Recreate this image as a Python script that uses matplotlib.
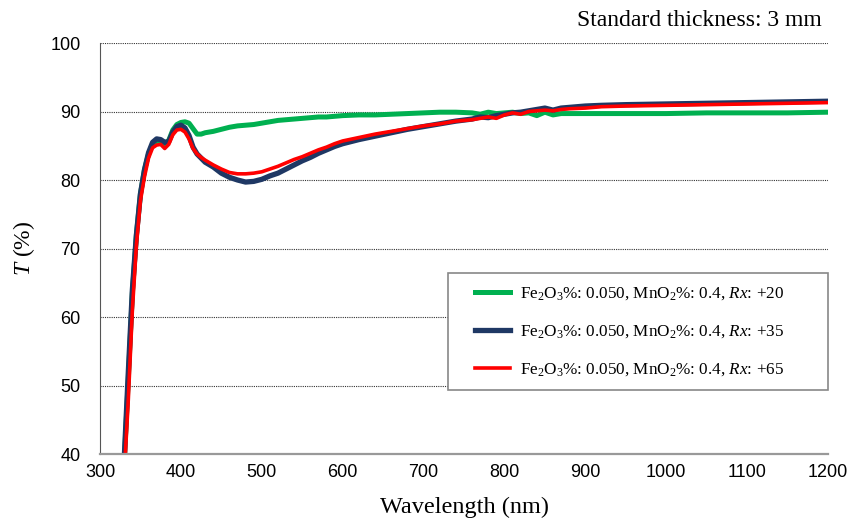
import matplotlib
matplotlib.use('Agg')
import matplotlib.pyplot as plt
from matplotlib.patches import Rectangle

plt.rcParams['mathtext.fontset'] = 'custom'
plt.rcParams['mathtext.rm'] = 'Liberation Serif'
plt.rcParams['mathtext.it'] = 'Liberation Serif:italic'

wavelength = [330, 335, 340, 345, 350, 355, 360, 365, 370, 375, 380, 385, 390, 395, 400,
              405, 410, 415, 420, 425, 430, 440, 450, 460, 470, 480, 490, 500, 510, 520,
              530, 540, 550, 560, 570, 580, 590, 600, 620, 640, 660, 680, 700, 720, 740,
              760, 770, 780, 790, 800, 810, 820, 830, 840, 850, 860, 870, 880, 900, 920,
              950, 1000, 1050, 1100, 1150, 1200]

t_rx20 = [39.0, 51.0, 63.5, 72.0, 78.0, 81.5, 83.8, 85.2, 85.7, 85.5, 85.3, 85.8, 87.3, 88.1, 88.4,
          88.5, 88.3, 87.5, 86.7, 86.7, 86.9, 87.1, 87.4, 87.7, 87.9, 88.0, 88.1, 88.3, 88.5, 88.7,
          88.8, 88.9, 89.0, 89.1, 89.2, 89.2, 89.3, 89.4, 89.5, 89.5, 89.6, 89.7, 89.8, 89.9, 89.9,
          89.8, 89.6, 89.9, 89.7, 89.8, 89.9, 89.7, 89.8, 89.4, 89.9, 89.5, 89.7, 89.7, 89.7, 89.7,
          89.7, 89.7, 89.8, 89.8, 89.8, 89.9]

t_rx35 = [39.5, 52.0, 64.0, 72.0, 78.0, 81.5, 84.0, 85.5, 86.0, 85.9, 85.5, 85.6, 87.0, 87.8, 88.0,
          87.6, 86.5, 84.8, 83.8, 83.2, 82.6, 81.9, 81.0, 80.4, 80.0, 79.7, 79.8, 80.1, 80.6, 81.0,
          81.6, 82.2, 82.8, 83.3, 83.9, 84.4, 84.9, 85.3, 85.9, 86.4, 86.9, 87.4, 87.8, 88.2, 88.6,
          88.9, 89.2, 89.1, 89.4, 89.6, 89.8, 89.9, 90.1, 90.3, 90.5, 90.2, 90.5, 90.6, 90.8, 90.9,
          91.0, 91.1, 91.2, 91.3, 91.4, 91.5]

t_rx65 = [37.0, 48.0, 61.0, 70.5, 77.0, 80.5, 83.2, 84.7, 85.1, 85.2, 84.6, 85.2, 86.6, 87.3, 87.4,
          87.0, 86.0, 84.6, 83.8, 83.3, 82.9, 82.2, 81.6, 81.1, 80.9, 80.9, 81.0, 81.2, 81.6, 82.0,
          82.5, 83.0, 83.4, 83.9, 84.4, 84.8, 85.3, 85.7, 86.2, 86.7, 87.1, 87.5, 87.9, 88.2, 88.6,
          88.8, 89.0, 89.2, 89.0, 89.5, 89.8, 89.6, 90.0, 90.1, 90.2, 90.1, 90.3, 90.4, 90.5, 90.7,
          90.8, 90.9, 91.0, 91.1, 91.2, 91.3]

labels = [r'Fe$_2$O$_3$%: 0.050, MnO$_2$%: 0.4, $Rx$: +20',
          r'Fe$_2$O$_3$%: 0.050, MnO$_2$%: 0.4, $Rx$: +35',
          r'Fe$_2$O$_3$%: 0.050, MnO$_2$%: 0.4, $Rx$: +65']

SERIF = 'Liberation Serif'
SANS = 'Liberation Sans'


def main():
    fig = plt.figure(figsize=(8.49, 5.2), dpi=100)
    ax = fig.add_axes([0.1178, 0.1269, 0.8575, 0.7904])

    ax.plot(wavelength, t_rx20, color='#00B050', lw=3.6, label=labels[0])
    ax.plot(wavelength, t_rx35, color='#1F3864', lw=3.8, label=labels[1])
    ax.plot(wavelength, t_rx65, color='#FF0000', lw=2.6, label=labels[2])

    ax.set_xlim(300, 1200)
    ax.set_ylim(40, 100)
    ax.set_xticks(range(300, 1201, 100))
    ax.set_yticks(range(40, 101, 10))
    ax.yaxis.grid(True, linestyle=(0, (1, 1)), color='#333333', lw=0.8)
    ax.set_axisbelow(True)
    ax.tick_params(axis='x', length=0, labelsize=13, pad=7)
    ax.tick_params(axis='y', length=0, labelsize=13, pad=14)
    for lab in ax.get_xticklabels() + ax.get_yticklabels():
        lab.set_family(SANS)

    for s in ['top', 'right']:
        ax.spines[s].set_visible(False)
    ax.spines['left'].set_color('#555555')
    ax.spines['left'].set_linewidth(0.8)
    ax.spines['bottom'].set_color('#999999')
    ax.spines['bottom'].set_linewidth(1.6)

    ax.set_xlabel('Wavelength (nm)', family=SERIF, fontsize=17.5)
    ax.xaxis.set_label_coords(0.5, -0.103)
    ax.set_ylabel(r'$T$ (%)', family=SERIF, fontsize=17)
    ax.yaxis.set_label_coords(-0.087, 0.5)
    fig.text(0.968, 0.961, 'Standard thickness: 3 mm', family=SERIF, fontsize=17,
             ha='right', va='center')

    # legend frame drawn separately so the entries can sit further in
    box = Rectangle((0.478, 0.156), 0.522, 0.284, transform=ax.transAxes,
                    facecolor='white', edgecolor='#888888', lw=1.2, zorder=4,
                    clip_on=False)
    ax.add_patch(box)
    ax.legend(loc='upper left', bbox_to_anchor=(0.4993, 0.44), borderaxespad=0,
              frameon=False, prop={'family': SERIF, 'size': 12.3}, labelspacing=1.25,
              handlelength=2.0, handletextpad=0.6, borderpad=0.7)

    fig.savefig('out.png', dpi=100)


if __name__ == '__main__':
    main()
